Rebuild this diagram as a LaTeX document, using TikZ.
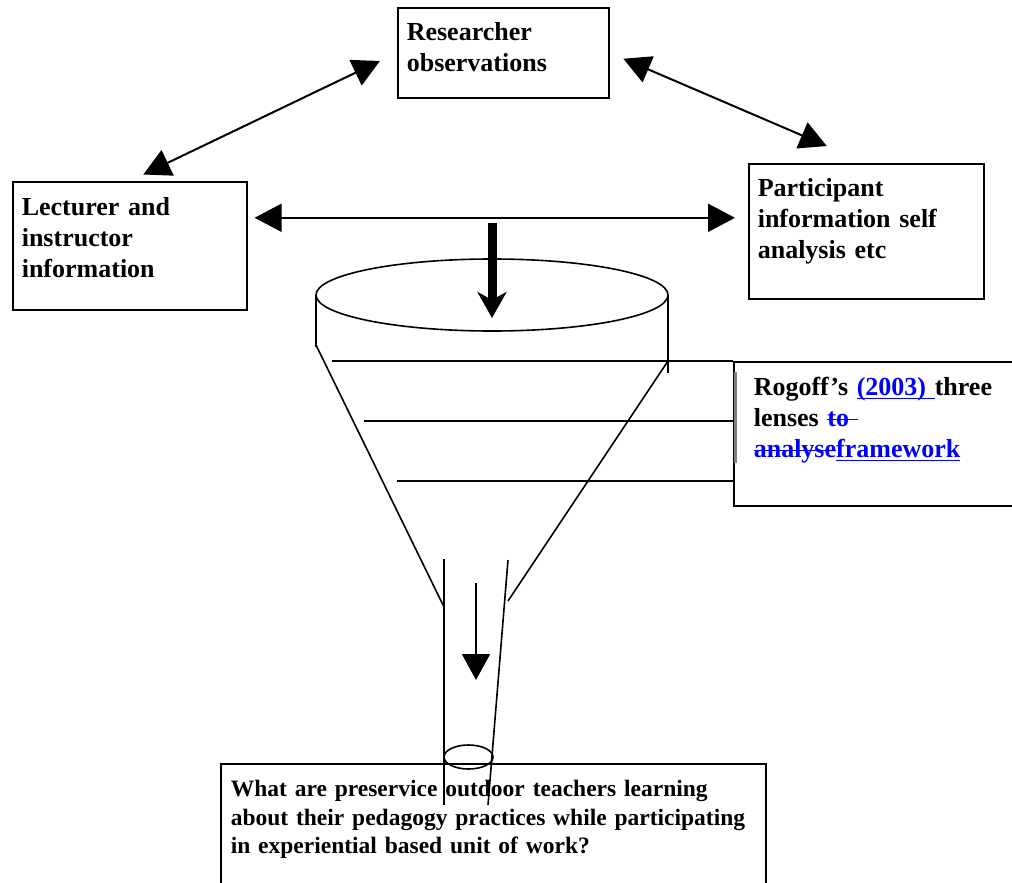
\documentclass[tikz,border=0pt]{standalone}
\usepackage{fontspec}
\setmainfont{Liberation Serif}
\usepackage{xcolor}
\usetikzlibrary{arrows.meta}
\definecolor{revblue}{RGB}{0,0,255}
\newsavebox{\revbox}
\newcommand{\revins}[1]{\textcolor{revblue}{\sbox{\revbox}{#1}\rlap{\rule[-3.5pt]{\wd\revbox}{1.5pt}}\usebox{\revbox}}}
\newcommand{\revdel}[1]{\textcolor{revblue}{\sbox{\revbox}{#1}\rlap{\rule[6.5pt]{\wd\revbox}{1.5pt}}\usebox{\revbox}}}
\tikzset{
    info-box/.style = {draw, line width=1.6pt, anchor=north west, inner xsep=9pt, inner ysep=0pt, align=left, font=\bfseries\fontsize{26}{31}\selectfont},
    two-way/.style = {line width=2pt, {Triangle[length=27pt,width=28pt]}-{Triangle[length=27pt,width=28pt]}},
    funnel-line/.style = {line width=1.6pt},
}

\begin{document}
\begin{tikzpicture}[x=1pt, y=-1pt]
\useasboundingbox (0,0) rectangle (1012,883);
% sources
\node[info-box, text width=193pt, text height=33pt, text depth=57pt] (res) at (397,7) {Researcher\\observations};
\node[info-box, text width=216pt, text height=34pt, text depth=94pt] (lec) at (12,181) {Lecturer and\\instructor\\information};
\node[info-box, text width=217pt, text height=33pt, text depth=102pt] (par) at (748,163) {Participant\\information self\\analysis etc};
\draw[two-way, shorten <=15pt, shorten >=19pt] (lec.north) -- (res.west);
\draw[two-way, shorten <=15pt, shorten >=43pt] (res.east) -- (par.north);
\draw[two-way, shorten <=7pt, shorten >=13pt] ([yshift=28pt]lec.east) -- ([yshift=28pt]lec.east -| par.west);
% funnel
\draw[funnel-line] (492,295) ellipse [x radius=176pt, y radius=36pt];
\draw[funnel-line] (316,295) -- (316,347);
\draw[funnel-line] (668,295) -- (668,373);
\draw[funnel-line] (316,345) -- (444,607);
\draw[funnel-line] (668,361) -- (508,601);
\draw[funnel-line] (444,559) -- (444,805);
\draw[funnel-line] (508,560) -- (488,805);
\draw[funnel-line] (468.5,757) ellipse [x radius=24.5pt, y radius=12pt];
\coordinate (drop) at (492,223);
\coordinate (mouth) at (492,318);
\draw[line width=9pt, -{Stealth[length=26pt, width=29pt, inset=8pt]}] (drop) -- (mouth);
\coordinate (spout) at (476,583);
\coordinate (outlet) at (476,680);
\draw[line width=2pt, -{Triangle[length=26pt, width=28pt]}] (spout) -- (outlet);
% framework
\node[info-box, inner xsep=20pt, text width=270pt, text height=34pt, text depth=110pt] (rog) at (733,361) {Rogoff's \revins{(2003) }three\\lenses \revdel{to }\\\revdel{analyse}\revins{framework}};
\draw[funnel-line] (332,361) -- (332,361 -| rog.west);
\draw[funnel-line] (364,421) -- (364,421 -| rog.west);
\draw[funnel-line] (397,481) -- (397,481 -| rog.west);
\draw[gray, line width=2.5pt] (735.5,372) -- (735.5,463);
% question
\node[info-box, font=\bfseries\fontsize{23.5}{28.5}\selectfont, inner xsep=10pt, text width=525pt, text height=33pt, text depth=107pt] (que) at (220,763) {What are preservice outdoor teachers learning\\about their pedagogy practices while participating\\in experiential based unit of work?};
\end{tikzpicture}
\end{document}
